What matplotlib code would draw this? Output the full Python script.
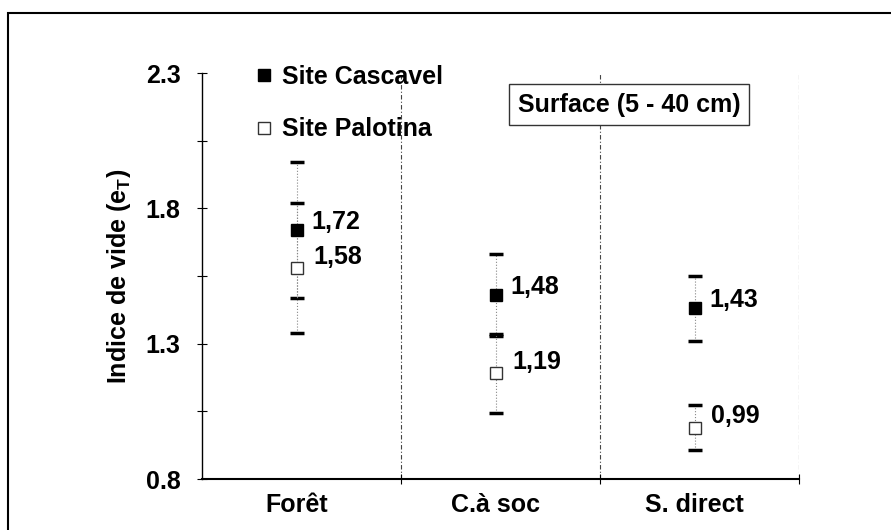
import matplotlib
matplotlib.use('Agg')
import matplotlib.pyplot as plt
from matplotlib.lines import Line2D
from matplotlib.patches import Rectangle

plt.rcParams['font.family'] = ['Liberation Sans', 'DejaVu Sans']
plt.rcParams['font.weight'] = 'bold'
plt.rcParams['mathtext.fontset'] = 'custom'
plt.rcParams['mathtext.rm'] = 'Liberation Sans:bold'

# data
sites = ['Forêt', 'C.à soc', 'S. direct']
cascavel = [1.72, 1.48, 1.43]
cascavel_err = [0.25, 0.15, 0.12]
palotina = [1.58, 1.19, 0.99]
palotina_err = [0.24, 0.145, 0.083]
cascavel_txt = ['1,72', '1,48', '1,43']
palotina_txt = ['1,58', '1,19', '0,99']

fig = plt.figure(figsize=(8.91, 5.3), dpi=100)
ax = fig.add_axes([202/891, 1 - 479/530, 597/891, 406/530])

x = [i - 0.025 for i in range(len(sites))]

# dividers between the site groups
for xv in [0.5, 1.5, 2.5]:
    ax.axvline(xv, color='#444444', lw=0.8, ls=(0, (4, 2, 1, 2)), zorder=1)

ax.errorbar(x, cascavel, yerr=cascavel_err, fmt='s', ms=8, mfc='black', mec='black',
            ecolor='#888888', elinewidth=0.8, capsize=5, zorder=3)
ax.errorbar(x, palotina, yerr=palotina_err, fmt='s', ms=8, mfc='white', mec='#333333',
            mew=1.0, ecolor='#888888', elinewidth=0.8, capsize=5, zorder=3)
# dotted bars, thick black caps
for c in ax.containers:
    for line in c[2]:
        line.set_linestyle(':')
    for cap in c[1]:
        cap.set_markeredgecolor('black')
        cap.set_markeredgewidth(2.5)

for xi, yi, t in zip(x, cascavel, cascavel_txt):
    ax.annotate(t, (xi, yi), xytext=(11, 6), textcoords='offset points',
                fontsize=18, fontweight='bold', va='center', ha='left')
for xi, yi, t in zip(x, palotina, palotina_txt):
    ax.annotate(t, (xi, yi), xytext=(12, 8), textcoords='offset points',
                fontsize=18, fontweight='bold', va='center', ha='left')

ax.set_xlim(-0.5, 2.5)
ax.set_ylim(0.8, 2.3)
ax.set_yticks([0.8, 1.3, 1.8, 2.3])
ax.set_yticklabels(['0.8', '1.3', '1.8', '2.3'])
ax.set_yticks([1.05, 1.55, 2.05], minor=True)
ax.set_xticks(x)
ax.set_xticklabels(sites)
ax.set_xticks([0.5, 1.5, 2.5], minor=True)
ax.tick_params(axis='y', which='both', direction='inout', length=7, width=0.8,
               labelsize=18, pad=12)
ax.tick_params(axis='x', which='major', length=0, labelsize=18, pad=10)
ax.tick_params(axis='x', which='minor', direction='inout', length=7, width=0.8)

ax.spines['top'].set_visible(False)
ax.spines['right'].set_visible(False)
ax.spines['left'].set_linewidth(1.0)
ax.spines['bottom'].set_linewidth(1.5)

ax.set_ylabel('Indice de vide (e$_\\mathrm{T}$)', fontsize=18, fontweight='bold')
ax.yaxis.set_label_coords(-0.115, 0.5)

handles = [Line2D([], [], ls='none', marker='s', ms=8, mfc='black', mec='black'),
           Line2D([], [], ls='none', marker='s', ms=8, mfc='white', mec='#333333', mew=1.0)]
ax.legend(handles, ['Site Cascavel', 'Site Palotina'], loc='upper left',
          bbox_to_anchor=(0.075, 1.045), frameon=False, fontsize=18,
          handlelength=0.6, handletextpad=0.4, labelspacing=1.15, borderaxespad=0)

ax.text(0.715, 0.922, 'Surface (5 - 40 cm)', transform=ax.transAxes, fontsize=18,
        fontweight='bold', ha='center', va='center',
        bbox=dict(boxstyle='square,pad=0.35', fc='white', ec='#333333', lw=1.0))

fig.patches.append(Rectangle((8/891, -0.1), 1.2, 1.1 - 13/530, transform=fig.transFigure,
                             fill=False, ec='black', lw=1.5))

fig.savefig('out.png', dpi=100)
